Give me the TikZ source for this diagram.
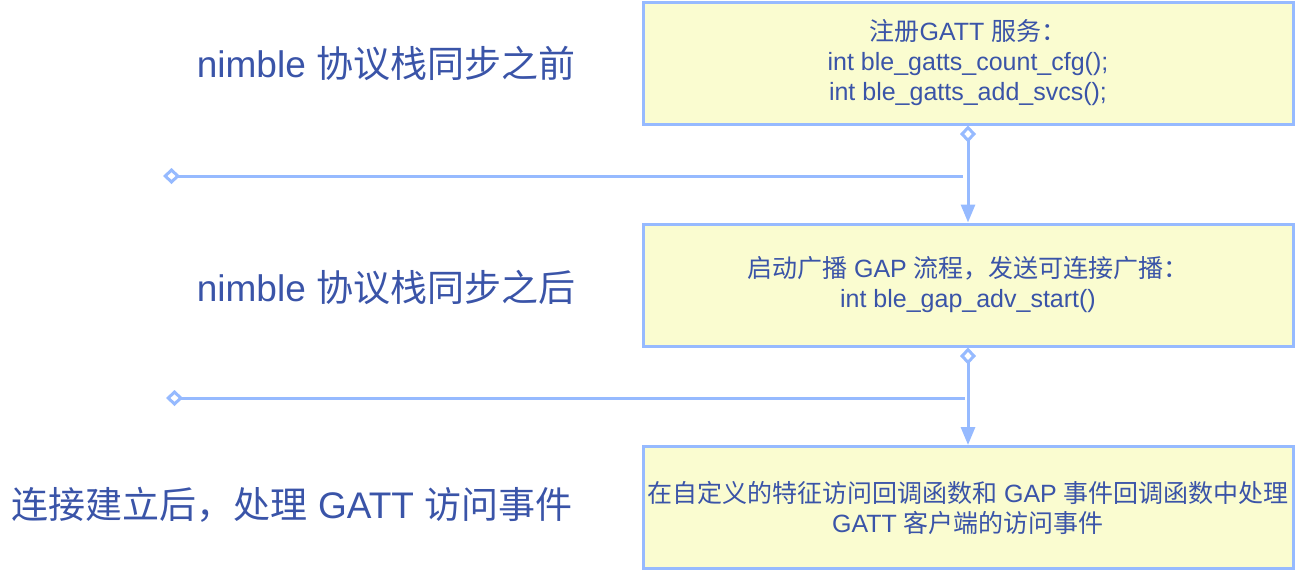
\documentclass[tikz,border=0pt]{standalone}
\usepackage{fontspec}
\setmainfont{Liberation Sans}
\newfontfamily\cjk{Noto Sans CJK SC}
\usetikzlibrary{arrows.meta}
\definecolor{txtblue}{RGB}{58,84,168}
\definecolor{lineblue}{RGB}{150,186,255}
\definecolor{boxfill}{RGB}{250,252,208}
\newcommand{\zh}[1]{{\cjk #1}}
\begin{document}
\begin{tikzpicture}[x=0.5pt,y=-0.5pt,
   stepbox/.style={draw=lineblue,fill=boxfill,line width=1.5pt,minimum width=325pt,minimum height=61pt,inner sep=0pt,text=txtblue,align=center,font=\fontsize{12.5}{15}\selectfont},
   phase/.style={text=txtblue,font=\fontsize{18.5}{22}\selectfont,inner sep=0pt},
   link/.style={draw=lineblue,line width=1.5pt},
   flow/.style={link,{Diamond[open,length=8.5pt,width=8pt]}-{Triangle[length=9pt,width=7pt]}},
   sep/.style={link,{Diamond[open,length=8.5pt,width=8pt]}-}]
   \useasboundingbox (0,0) rectangle (1295,570);
   \node[stepbox] (gatt) at (968,63) {\zh{注册}GATT \zh{服务：}\\int ble\_gatts\_count\_cfg();\\int ble\_gatts\_add\_svcs();};
   \node[stepbox] (adv) at (968,285) {\zh{启动广播} GAP \zh{流程，发送可连接广播：}\\int ble\_gap\_adv\_start()};
   \node[stepbox] (event) at (968,507.5) {\zh{在自定义的特征访问回调函数和} GAP \zh{事件回调函数中处理}\\GATT \zh{客户端的访问事件}};
   \node[phase] (before) at (386,63) {nimble \zh{协议栈同步之前}};
   \node[phase] (after) at (386,287) {nimble \zh{协议栈同步之后}};
   \node[phase] (conn) at (292,505) {\zh{连接建立后，处理} GATT \zh{访问事件}};
   \coordinate (cut1) at (963,176);
   \coordinate (cut1end) at (163,176);
   \coordinate (cut2) at (965,398);
   \coordinate (cut2end) at (166,398);
   \draw[flow] (gatt.south) -- (adv.north);
   \draw[flow] (adv.south) -- (event.north);
   \draw[sep] (cut1end) -- (cut1);
   \draw[sep] (cut2end) -- (cut2);
\end{tikzpicture}
\end{document}
